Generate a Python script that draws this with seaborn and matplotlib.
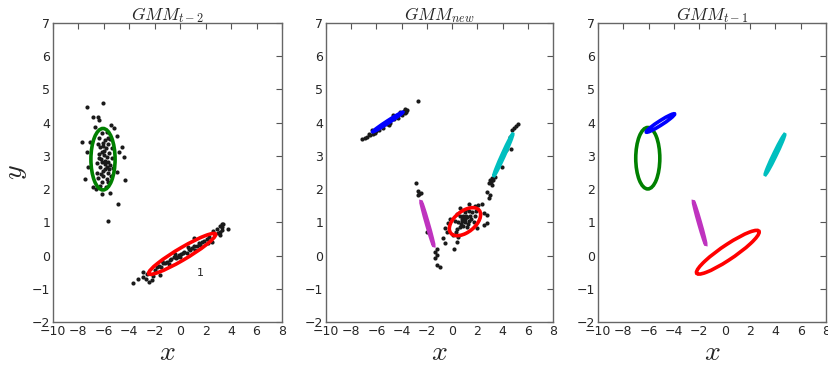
import matplotlib
matplotlib.use('Agg')
import matplotlib.pyplot as plt
from matplotlib.patches import Ellipse
import seaborn as sns

sns.set_theme(style='white')
plt.rcParams['font.family'] = ['DejaVu Sans']
plt.rcParams['mathtext.fontset'] = 'cm'

# ---- data ------------------------------------------------------------------
titles = [r'$GMM_{t-2}$', r'$GMM_{new}$', r'$GMM_{t-1}$']

# panel 1 samples (green blob + red streak)
t2_x = [-7.35, -6.05, -6.83, -6.44, -6.36, -6.70, -5.46, -5.20, -4.95, -7.75,
        -7.09, -4.60, -7.30, -4.79, -4.40, -7.23, -5.00, -7.48, -4.34, -6.88,
        -6.62, -6.17, -5.52, -4.91, -5.65,
        -6.17, -5.78, -6.36, -5.91, -5.52, -6.10, -5.65, -6.31, -5.83, -5.39,
        -6.17, -5.57, -5.99, -6.36, -5.78, -5.39, -6.17, -5.65, -6.52, -5.91,
        -5.52, -6.31, -5.78, -5.31, -6.10, -6.57, -5.65, -6.05, -6.44, -5.78,
        -6.17, -5.65, -6.31,
        -6.00, -5.90, -6.20, -5.70, -6.40, -6.25, -5.95, -5.60, -6.05, -5.85,
        -6.50, -5.45,
        3.78, 3.13, 3.26, 2.47, 2.21, 1.08, 1.55, 0.77, 0.24, -0.28,
        -0.80, -1.33, -1.85, -1.59, -2.12, -2.64, -2.90, -3.30, -3.74, -2.69,
        -2.43, -2.24, -2.95,
        -2.00, -1.70, -1.50, -1.20, -1.00, -0.70, -0.50, -0.30, -0.10, 0.10,
        0.30, 0.50, 0.70, 0.90, 1.10, 1.30, 1.50, 1.70, 1.90, 2.10,
        2.30, -0.90, 0.00, 0.60, 1.20, -1.40, -0.40, 2.60, 2.90, 3.10,
        3.35, 3.30, 3.25, 3.15, 3.00]
t2_y = [4.46, 4.60, 4.18, 4.16, 4.08, 3.86, 3.93, 3.83, 3.60, 3.43,
        3.43, 3.28, 3.13, 3.13, 2.96, 2.66, 2.52, 2.30, 2.27, 2.07,
        1.99, 1.85, 1.87, 1.54, 1.05,
        3.68, 3.73, 3.53, 3.48, 3.50, 3.38, 3.36, 3.28, 3.23, 3.23,
        3.13, 3.10, 3.03, 2.93, 2.96, 2.93, 2.83, 2.83, 2.78, 2.76,
        2.73, 2.66, 2.66, 2.63, 2.55, 2.49, 2.48, 2.38, 2.33, 2.30,
        2.22, 2.22, 2.09,
        3.15, 2.60, 2.45, 3.55, 3.05, 2.90, 2.85, 2.60, 3.30, 2.05,
        3.35, 2.40,
        0.80, 0.62, 0.95, 0.42, 0.37, 0.52, 0.32, 0.17, 0.07, -0.03,
        -0.13, -0.23, -0.34, -0.59, -0.62, -0.56, -0.64, -0.71, -0.84, -0.71,
        -0.79, -0.74, -0.49,
        -0.42, -0.30, -0.35, -0.22, -0.18, -0.10, -0.05, -0.08, 0.02, 0.05,
        0.12, 0.08, 0.20, 0.22, 0.28, 0.30, 0.38, 0.42, 0.45, 0.50,
        0.55, -0.25, -0.05, 0.25, 0.18, -0.15, 0.05, 0.75, 0.80, 0.88,
        0.95, 0.85, 0.78, 0.72, 0.68]

# panel 2 samples (blue, magenta, red, cyan groups)
new_x = [-7.17, -6.77, -6.51, -6.30, -6.38, -2.73, -3.61, -3.74, -4.00, -4.13,
         -4.66, -6.00, -5.80, -5.50, -5.20, -4.90, -4.60, -4.30, -5.60, -5.00,
         -4.40, -6.10, -3.80, -3.70, -3.65, -6.60, -6.90,
         -2.86, -2.68, -2.60, -2.49, -2.68, -1.97, -1.22, -1.36, -1.22, -1.36,
         -1.17, -0.96,
         0.63, 1.37, 1.82, 2.08, 2.35, 2.56, 2.74, 2.53, 2.79, 1.95,
         -0.17, -0.30, -0.56, -0.38, -0.70, -0.56, 0.15, 0.36, 0.49, 0.10,
         2.93, 2.99, 2.74, 3.14, 2.99, 3.20,
         0.80, 1.00, 1.20, 0.90, 1.10, 1.30, 0.70, 1.00, 1.40, 0.60,
         1.50, 0.85, 1.15, 1.05, 0.95, 1.25, 0.75, 1.60, 0.50, 1.35,
         0.65, 1.20, 0.40, 1.70, 0.30, 1.80, 0.20, 1.90, 0.35,
         5.25, 5.07, 4.91, 4.73, 4.67, 3.93, 3.40, 3.22, 3.06, 2.95,
         4.25, 4.57]
new_y = [3.50, 3.58, 3.63, 3.66, 3.78, 4.65, 4.38, 4.28, 4.23, 4.31,
         4.23, 3.75, 3.78, 3.85, 3.95, 4.00, 4.10, 4.15, 3.90, 3.92,
         4.20, 3.68, 4.35, 4.40, 4.33, 3.65, 3.55,
         2.17, 1.95, 1.85, 1.87, 1.82, 0.72, 0.19, 0.12, 0.02, -0.08,
         -0.28, -0.35,
         1.42, 1.54, 1.49, 1.53, 1.54, 1.29, 1.22, 0.92, 0.97, 0.82,
         1.09, 0.97, 0.82, 0.72, 0.52, 0.37, 0.19, 0.42, 0.57, 0.62,
         1.72, 1.82, 1.92, 2.12, 2.27, 2.32,
         1.10, 1.00, 1.15, 0.90, 1.20, 1.05, 0.95, 1.30, 1.20, 0.85,
         1.10, 1.20, 0.85, 1.10, 1.05, 0.95, 1.05, 1.30, 1.00, 1.35,
         1.20, 1.40, 0.80, 1.00, 0.70, 1.20, 1.05, 1.35, 1.25,
         3.96, 3.90, 3.83, 3.78, 3.20, 2.67, 2.37, 2.27, 2.22, 2.17,
         3.18, 3.58]

# mixture components per panel: centre, full axis lengths, angle (deg)
t2_cx, t2_cy = [-6.07, 0.15], [2.90, 0.05]
t2_w, t2_h, t2_ang = [1.90, 5.40], [1.85, 0.40], [0, 12.5]
t2_col = ['g', 'r']

new_cx, new_cy = [-5.10, -1.96, 1.02, 4.06], [4.02, 0.96, 1.02, 3.03]
new_w, new_h = [2.45, 1.65, 2.52, 1.95], [0.08, 0.12, 0.72, 0.14]
new_ang = [13.8, -52.7, 10.5, 39.7]
new_col = ['b', 'm', 'r', 'c']

t1_cx, t1_cy = [-6.07, 0.25, -5.07, -1.98, 3.97], [2.93, 0.10, 3.99, 0.98, 3.04]
t1_w, t1_h = [1.90, 5.10, 2.30, 1.60, 1.95], [1.85, 0.50, 0.15, 0.12, 0.15]
t1_ang = [0, 13.9, 13.5, -53.0, 38.0]
t1_col = ['g', 'r', 'b', 'm', 'c']

note_x, note_y, note_txt = 1.55, -0.52, '1'

# ---- drawing ---------------------------------------------------------------
classic = {'g': (0, 0.5, 0), 'r': (1, 0, 0), 'b': (0, 0, 1),
           'c': (0, 0.75, 0.75), 'm': (0.75, 0.2, 0.75)}


def draw_components(ax, cx, cy, w, h, ang, cols):
    for x, y, ww, hh, a, c in zip(cx, cy, w, h, ang, cols):
        ax.add_patch(Ellipse((x, y), ww, hh, angle=a, fill=False,
                             ec=classic[c], lw=2.6))


fig = plt.figure(figsize=(8.29, 3.68), dpi=100)
lefts = [53 / 829, 326 / 829, 598 / 829]
widths = [229 / 829, 227 / 829, 228 / 829]
axes = [fig.add_axes([l, 0.125, w, 0.8125]) for l, w in zip(lefts, widths)]

points = [(t2_x, t2_y), (new_x, new_y), None]
comps = [(t2_cx, t2_cy, t2_w, t2_h, t2_ang, t2_col),
         (new_cx, new_cy, new_w, new_h, new_ang, new_col),
         (t1_cx, t1_cy, t1_w, t1_h, t1_ang, t1_col)]

for ax, title, pts, comp in zip(axes, titles, points, comps):
    if pts is not None:
        sns.scatterplot(x=pts[0], y=pts[1], ax=ax, color='k', s=9,
                        linewidth=0, legend=False, zorder=1)
    draw_components(ax, *comp)
    ax.set_xlim(-10, 8)
    ax.set_ylim(-2, 7)
    ax.set_xticks(range(-10, 9, 2))
    ax.set_yticks(range(-2, 8))
    ax.tick_params(direction='in', top=True, right=True, length=4, width=0.8,
                   color='#555555', labelsize=9, pad=2)
    for sp in ax.spines.values():
        sp.set_color('#666666')
        sp.set_linewidth(1)
    ax.set_title(title, fontsize=12.5, pad=2)
    ax.set_xlabel(r'$x$', fontsize=20, labelpad=0)

axes[0].set_ylabel(r'$y$', fontsize=20, labelpad=2)
axes[0].text(note_x, note_y, note_txt, ha='center', va='center', fontsize=8)

fig.savefig('out.png', dpi=100)
